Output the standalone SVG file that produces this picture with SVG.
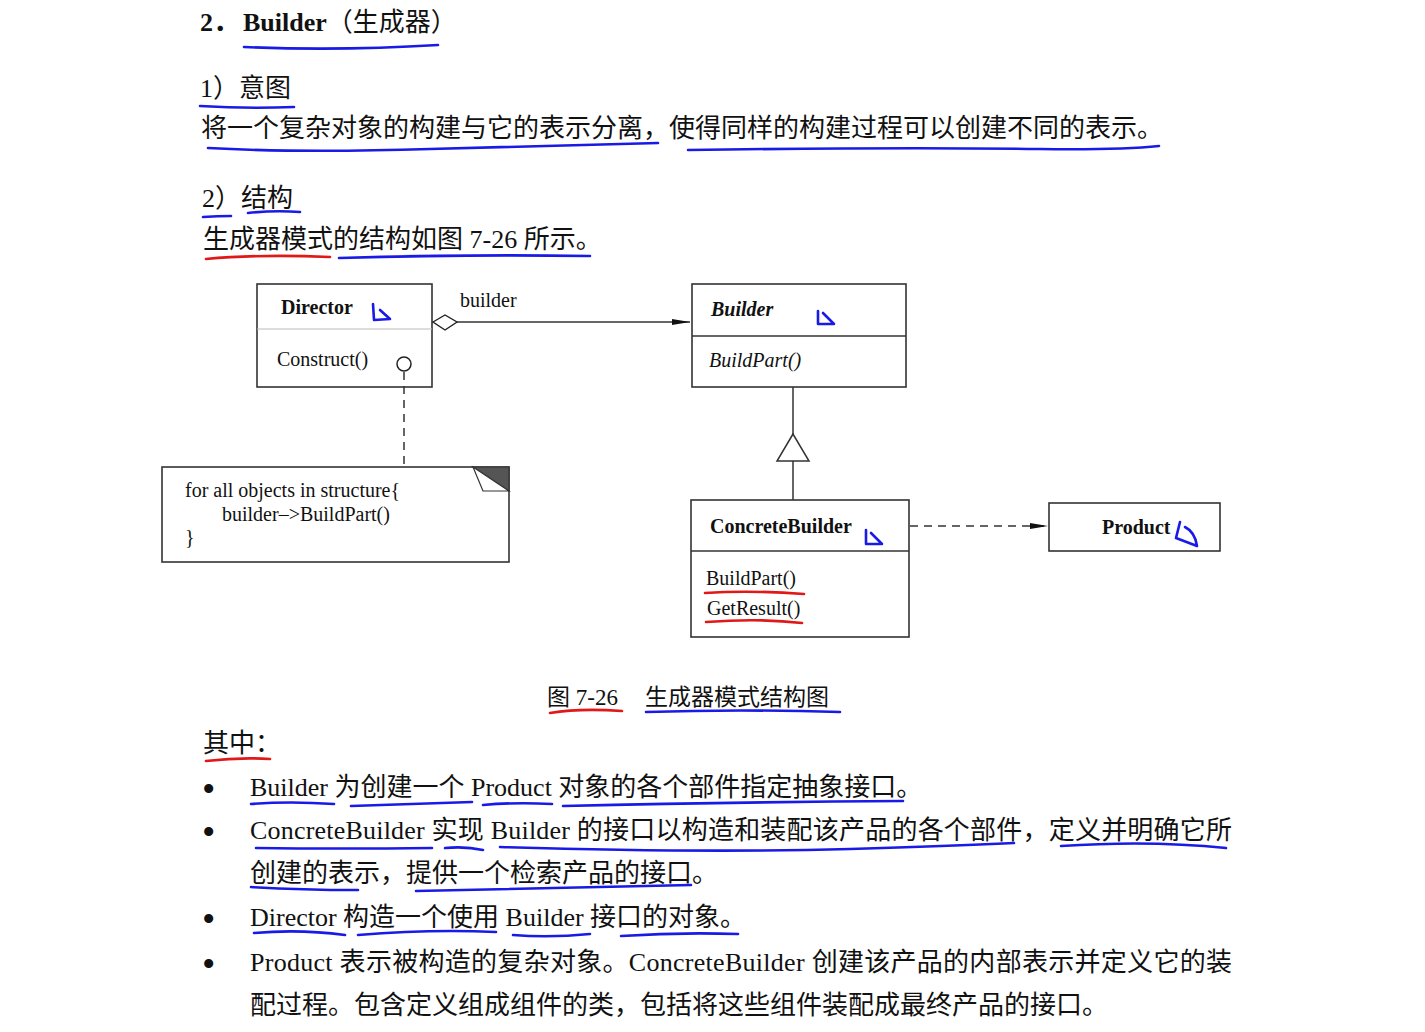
<svg xmlns="http://www.w3.org/2000/svg" width="1425" height="1032" viewBox="0 0 1425 1032">
<style>
  text { font-family: "Liberation Serif", "Noto Sans CJK SC", serif; fill: #111; }
  .body { font-size: 26px; }
  .dg { font-size: 20px; }
  .b { font-weight: bold; }
  .i { font-style: italic; }
  .bul { font-size: 38px; }
  .box { fill: #fff; stroke: #333; stroke-width: 1.6; }
  .ln { fill: none; stroke: #333; stroke-width: 1.5; }
  .dash { fill: none; stroke: #333; stroke-width: 1.5; stroke-dasharray: 8 6; }
  .blue { fill: none; stroke: #1a1ae6; stroke-width: 2.6; stroke-linecap: round; stroke-linejoin: round; }
  .red { fill: none; stroke: #e01818; stroke-width: 2.6; stroke-linecap: round; stroke-linejoin: round; }
</style>
<defs>
  <marker id="arr" viewBox="0 0 18 8" refX="18" refY="4" markerWidth="18" markerHeight="8" markerUnits="userSpaceOnUse" orient="auto">
    <path d="M0,1 L18,4 L0,7 Z" fill="#111"/>
  </marker>
</defs>
<rect width="1425" height="1032" fill="#fff"/>

<!-- heading text -->
<g id="heading">
  <text class="body" x="200" y="31"><tspan class="b">2．</tspan><tspan class="b" x="243">Builder</tspan><tspan>（生成器）</tspan></text>
  <text class="body" x="200" y="97" font-size="25">1）意图</text>
  <text class="body" x="201" y="137">将一个复杂对象的构建与它的表示分离，使得同样的构建过程可以创建不同的表示。</text>
  <text class="body" x="202" y="207" font-size="25">2）结构</text>
  <text class="body" x="203" y="248">生成器模式的结构如图 7-26 所示。</text>
</g>

<!-- nodes -->
<g id="director">
  <rect class="box" x="257" y="284" width="175" height="103"/>
  <line x1="257" y1="329" x2="432" y2="329" stroke="#bbb" stroke-width="1.2"/>
  <text class="dg b" x="281" y="314">Director</text>
  <text class="dg" x="277" y="366">Construct()</text>
  <circle cx="404" cy="364" r="7" fill="#fff" stroke="#222" stroke-width="1.5"/>
</g>

<g id="note">
  <rect class="box" x="162" y="467" width="347" height="95"/>
  <polygon points="473,467 509,467 509,491" fill="#555" stroke="#333" stroke-width="1.2"/>
  <polygon points="473,467 483,491 509,491" fill="#fff" stroke="#333" stroke-width="1.2"/>
  <text class="dg" x="185" y="497" font-size="19">for all objects in structure{</text>
  <text class="dg" x="222" y="521" font-size="19">builder–&gt;BuildPart()</text>
  <text class="dg" x="185" y="544" font-size="19">}</text>
</g>

<g id="builder">
  <rect class="box" x="692" y="284" width="214" height="103"/>
  <line x1="692" y1="336" x2="906" y2="336" stroke="#333" stroke-width="1.4"/>
  <text class="dg b i" x="711" y="316">Builder</text>
  <text class="dg i" x="709" y="367">BuildPart()</text>
</g>

<g id="concrete-builder">
  <rect class="box" x="691" y="500" width="218" height="137"/>
  <line x1="691" y1="551" x2="909" y2="551" stroke="#333" stroke-width="1.4"/>
  <text class="dg b" x="710" y="533">ConcreteBuilder</text>
  <text class="dg" x="706" y="585">BuildPart()</text>
  <text class="dg" x="707" y="615">GetResult()</text>
</g>

<g id="product">
  <rect class="box" x="1049" y="503" width="171" height="48"/>
  <text class="dg b" x="1102" y="534" font-size="19">Product</text>
</g>

<!-- connectors -->
<g id="connectors">
  <polygon points="433,322 445,315 457,322 445,330" fill="#fff" stroke="#222" stroke-width="1.4"/>
  <line class="ln" x1="457" y1="322" x2="690" y2="322" marker-end="url(#arr)"/>
  <text class="dg" x="460" y="307">builder</text>
  <line class="dash" x1="404" y1="372" x2="404" y2="467"/>
  <line class="ln" x1="793" y1="387" x2="793" y2="434"/>
  <polygon points="793,434 777,461 809,461" fill="#fff" stroke="#333" stroke-width="1.5"/>
  <line class="ln" x1="793" y1="461" x2="793" y2="500"/>
  <line class="dash" x1="910" y1="526" x2="1048" y2="526" marker-end="url(#arr)"/>
</g>

<!-- caption and list -->
<g id="caption">
  <text x="547" y="705" font-size="23">图 7-26</text>
  <text x="645" y="705" font-size="23">生成器模式结构图</text>
</g>
<g id="list">
  <text class="body" x="203" y="752">其中：</text>
  <text class="bul" x="202" y="802">•</text>
  <text class="body" x="250" y="796">Builder 为创建一个 Product 对象的各个部件指定抽象接口。</text>
  <text class="bul" x="202" y="845">•</text>
  <text class="body" x="250" y="839" textLength="982" lengthAdjust="spacing">ConcreteBuilder 实现 Builder 的接口以构造和装配该产品的各个部件，定义并明确它所</text>
  <text class="body" x="250" y="882">创建的表示，提供一个检索产品的接口。</text>
  <text class="bul" x="202" y="932">•</text>
  <text class="body" x="250" y="926">Director 构造一个使用 Builder 接口的对象。</text>
  <text class="bul" x="202" y="977">•</text>
  <text class="body" x="250" y="971" textLength="982" lengthAdjust="spacing">Product 表示被构造的复杂对象。ConcreteBuilder 创建该产品的内部表示并定义它的装</text>
  <text class="body" x="250" y="1014">配过程。包含定义组成组件的类，包括将这些组件装配成最终产品的接口。</text>
</g>

<!-- hand-drawn annotations -->
<g id="annotations">
  <path class="blue" d="M244,47 Q340,51 438,45"/>
  <path class="blue" d="M200,106 Q248,109 294,107"/>
  <path class="blue" d="M208,148 Q300,153 430,149 Q560,146 658,143"/>
  <path class="blue" d="M688,150 Q900,147 1040,149 Q1120,150 1159,146"/>
  <path class="blue" d="M203,217 Q218,216 231,216"/>
  <path class="blue" d="M248,213 Q275,210 300,212"/>
  <path class="red" d="M206,259 Q260,254 330,257"/>
  <path class="blue" d="M339,258 Q470,254 590,256"/>
  <path class="blue" d="M373,304 L374,320 L390,319 L380,310"/>
  <path class="blue" d="M818,311 L818,324 L834,324 L823,313"/>
  <path class="blue" d="M866,530 L866,544 L882,544 L871,533"/>
  <path class="blue" d="M1180,522 L1176,538 L1197,546 Q1195,532 1185,527"/>
  <path class="red" d="M705,593 Q750,590 804,594"/>
  <path class="red" d="M706,622 Q760,618 802,623"/>
  <path class="red" d="M550,713 Q580,708 622,711"/>
  <path class="blue" d="M646,712 Q740,709 840,712"/>
  <path class="red" d="M206,761 Q240,757 270,759"/>
  <path class="blue" d="M251,804 Q290,801 334,804"/>
  <path class="blue" d="M351,806 Q410,804 472,802"/>
  <path class="blue" d="M483,805 Q515,802 552,804"/>
  <path class="blue" d="M563,806 Q740,802 903,801"/>
  <path class="blue" d="M256,848 Q340,849 432,848"/>
  <path class="blue" d="M445,848 Q465,846 483,850"/>
  <path class="blue" d="M500,847 Q700,853 850,849 Q950,846 1014,843"/>
  <path class="blue" d="M1061,846 Q1150,840 1226,848"/>
  <path class="blue" d="M251,887 Q300,890 358,890"/>
  <path class="blue" d="M416,891 Q550,888 691,885"/>
  <path class="blue" d="M254,933 Q300,929 345,935"/>
  <path class="blue" d="M358,935 Q430,929 496,932"/>
  <path class="blue" d="M513,935 Q550,938 590,934"/>
  <path class="blue" d="M621,936 Q680,932 738,934"/>
</g>
</svg>
